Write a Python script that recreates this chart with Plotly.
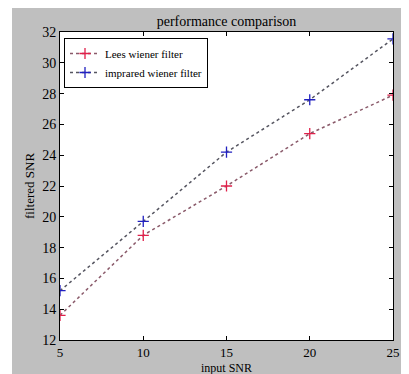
import plotly.graph_objects as go

input_snr = [5, 10, 15, 20, 25]
lees_wiener = [13.6, 18.8, 22.0, 25.4, 27.9]
improved_wiener = [15.2, 19.7, 24.2, 27.6, 31.55]
series_names = ["Lees wiener filter", "imprared wiener filter"]

# page body has an 8px margin, so figure is shrunk/offset accordingly
OFF = 8
W, H = 409 - OFF, 374 - OFF
L, T = 60 - OFF, 32 - OFF
pw, ph = 333, 308
R, B = W - L - pw, H - T - ph

fig = go.Figure()
fig.add_trace(go.Scatter(
    x=input_snr, y=lees_wiener, name=series_names[0], mode="lines+markers",
    line=dict(color="#8a5a6a", width=1.5, dash="dot"),
    marker=dict(symbol="cross-thin", size=8, line=dict(color="#e0204a", width=1.3)),
))
fig.add_trace(go.Scatter(
    x=input_snr, y=improved_wiener, name=series_names[1], mode="lines+markers",
    line=dict(color="#555560", width=1.5, dash="dot"),
    marker=dict(symbol="cross-thin", size=8, line=dict(color="#2020c0", width=1.3)),
))

font = "Liberation Serif, Times New Roman, serif"
axis_common = dict(
    showline=True, linecolor="black", linewidth=1, mirror="ticks",
    ticks="inside", ticklen=4, tickcolor="black", showgrid=False, zeroline=False,
    automargin=False,
)

fig.update_layout(
    width=W, height=H,
    margin=dict(l=L, r=R, t=T, b=B),
    paper_bgcolor="white", plot_bgcolor="white",
    title=dict(text="performance comparison", x=(L + pw / 2) / W, xanchor="center",
               y=1 - 13 / H, yanchor="middle", font=dict(family=font, size=14, color="black")),
    xaxis=dict(range=[5, 25], tickvals=[5, 10, 15, 20, 25],
               tickfont=dict(family=font, size=13, color="black"), ticklabelstandoff=0,
               **axis_common),
    yaxis=dict(range=[12, 32], tickvals=list(range(12, 33, 2)),
               tickfont=dict(family=font, size=14, color="black"),
               title=dict(text="filtered SNR", font=dict(family=font, size=13, color="black"), standoff=4),
               **axis_common),
    legend=dict(x=4 / pw, y=1 - 6 / ph, xanchor="left", yanchor="top",
                bgcolor="white", bordercolor="black", borderwidth=1,
                font=dict(family=font, size=11, color="black"),
                itemwidth=30, tracegroupgap=0),
    showlegend=True,
)

# x-axis title placed as annotation just below tick labels
fig.add_annotation(text="input SNR", xref="paper", yref="paper", x=0.5,
                   y=(T + ph - (368 - OFF)) / ph, xanchor="center", yanchor="middle",
                   showarrow=False, font=dict(family=font, size=12, color="black"))

# grey figure background and white axes area
fig.add_shape(type="rect", xref="paper", yref="paper", layer="below",
              x0=(4 - L) / pw, x1=(396 - L) / pw, y0=(T + ph - H) / ph, y1=(T + ph) / ph,
              fillcolor="#bfbfbf", line=dict(width=0))
fig.add_shape(type="rect", xref="paper", yref="paper", layer="below",
              x0=0, x1=1, y0=0, y1=1, fillcolor="white", line=dict(width=0))

fig.write_html("out.html")
